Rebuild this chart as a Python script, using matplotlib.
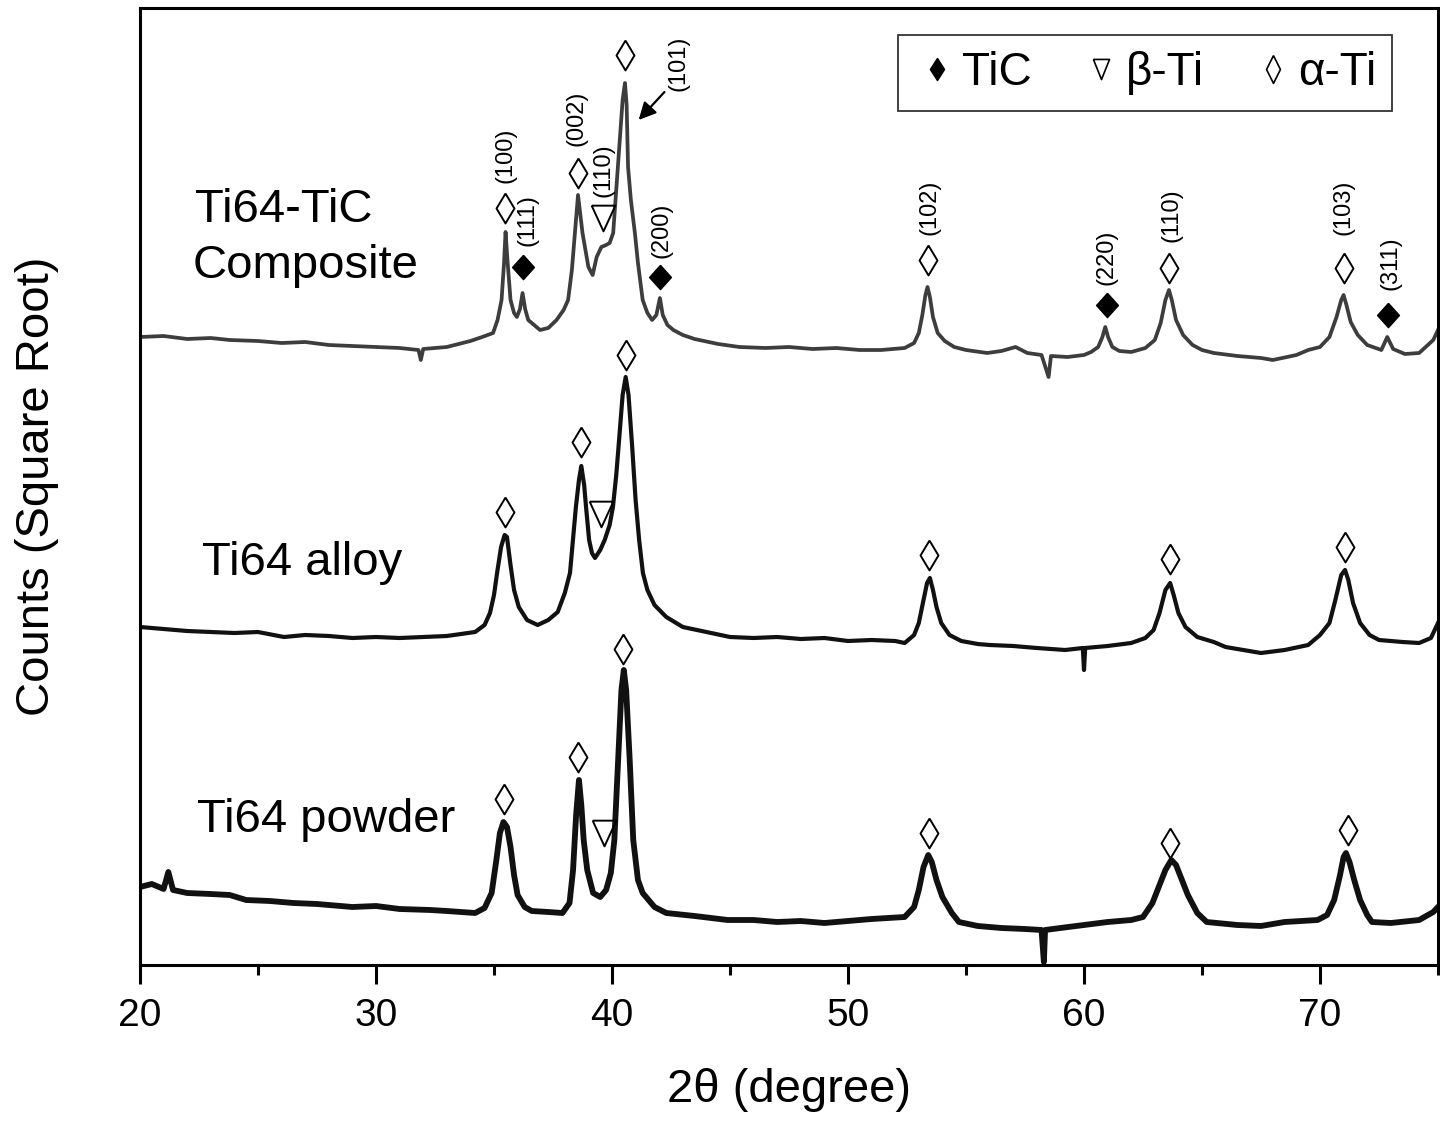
import matplotlib
matplotlib.use("Agg")
import matplotlib.pyplot as plt
from matplotlib.lines import Line2D
from matplotlib.ticker import MultipleLocator

plt.rcParams['font.family'] = ['Liberation Sans', 'DejaVu Sans']

# 2theta / sqrt(counts) traces, each one already offset for stacking
tth_comp = [20.0, 21.0, 22.0, 23.0, 23.8, 25.0, 26.0, 27.0, 28.0, 29.0, 30.0, 31.0, 31.8, 31.9, 32.0,
            33.0, 34.0, 34.5, 34.96, 35.15, 35.32, 35.42, 35.49, 35.57, 35.7, 35.85, 35.97, 36.1,
            36.21, 36.32, 36.45, 36.95, 37.3, 37.65, 37.95, 38.14, 38.3, 38.43, 38.56, 38.65,
            38.75, 39.0, 39.18, 39.35, 39.55, 39.75, 39.9, 40.05, 40.25, 40.45, 40.55, 40.62,
            40.68, 40.8, 40.97, 41.1, 41.3, 41.5, 41.7, 41.88, 42.03, 42.15, 42.35, 42.6, 43.0,
            43.5, 44.5, 45.4, 46.5, 47.5, 48.5, 49.5, 50.5, 51.4, 52.4, 52.8, 53.0, 53.15, 53.28,
            53.37, 53.47, 53.6, 53.8, 54.1, 54.5, 55.0, 55.9, 56.5, 57.1, 57.6, 58.2, 58.5, 58.6,
            59.3, 60.0, 60.3, 60.6, 60.78, 60.9, 61.02, 61.2, 61.5, 62.0, 62.6, 63.0, 63.25,
            63.45, 63.6, 63.72, 63.9, 64.2, 64.6, 65.0, 65.5, 66.5, 67.5, 68.0, 69.0, 69.5, 70.0,
            70.4, 70.7, 70.9, 71.0, 71.12, 71.3, 71.6, 72.0, 72.6, 72.85, 73.1, 73.6, 74.2, 74.8,
            75.0]
int_comp = [628, 629, 626, 627, 625, 624, 622, 623, 620, 619, 618, 617, 615, 605, 616,
            618, 624, 628, 632, 645, 665, 700, 733, 705, 665, 652, 648, 656,
            672, 656, 645, 635, 637, 645, 655, 665, 695, 732, 770, 752,
            732, 698, 690, 708, 718, 720, 722, 732, 798, 865, 882, 860,
            798, 765, 732, 702, 665, 652, 645, 650, 667, 650, 640, 635, 630,
            626, 621, 618, 617, 618, 616, 617, 615, 615, 617, 622, 632, 650, 670,
            678, 668, 648, 632, 624, 618, 615, 612, 614, 618, 612, 610, 588, 609,
            608, 610, 613, 618, 628, 638, 628, 618, 614, 613, 617, 625, 642,
            665, 675, 665, 645, 630, 620, 615, 612, 609, 607, 605, 610, 615, 618,
            628, 648, 665, 670, 660, 643, 630, 620, 615, 628, 616, 611, 612, 625,
            635]

tth_alloy = [20.0, 21.0, 22.0, 23.0, 24.0, 25.0, 26.1, 27.0, 28.0, 29.0, 30.0, 31.0, 32.0, 33.0,
             34.2, 34.6, 34.83, 35.0, 35.13, 35.3, 35.45, 35.55, 35.7, 35.85, 36.05, 36.4, 36.85,
             37.3, 37.7, 38.0, 38.22, 38.47, 38.6, 38.7, 38.82, 38.9, 39.03, 39.15, 39.28, 39.5,
             39.69, 39.9, 40.04, 40.18, 40.3, 40.45, 40.58, 40.7, 40.85, 41.0, 41.15, 41.31, 41.5,
             41.8, 42.3, 43.0, 44.0, 45.0, 46.0, 47.0, 48.0, 49.0, 50.0, 51.0, 52.0, 52.4, 52.8,
             53.0, 53.2, 53.35, 53.47, 53.6, 53.75, 53.95, 54.3, 54.8, 55.5, 56.0, 57.0, 58.0,
             59.2, 59.95, 60.0, 60.05, 61.0, 62.0, 62.6, 62.95, 63.2, 63.45, 63.65, 63.8, 64.0,
             64.3, 64.8, 65.5, 66.0, 67.5, 68.5, 69.5, 70.0, 70.4, 70.65, 70.9, 71.06, 71.2, 71.4,
             71.7, 72.1, 72.5, 73.5, 74.2, 74.7, 75.0]
int_alloy = [338, 336, 334, 333, 332, 333, 328, 330, 329, 327, 328, 327, 328, 329,
             333, 340, 352, 370, 392, 418, 430, 428, 400, 375, 358, 345, 340,
             345, 353, 372, 392, 458, 485, 499, 480, 458, 425, 412, 407, 415,
             425, 440, 458, 490, 525, 570, 588, 570, 520, 465, 425, 392, 375,
             360, 348, 338, 333, 328, 327, 328, 326, 327, 324, 325, 324, 322, 330,
             342, 365, 382, 387, 375, 358, 342, 330, 324, 321, 320, 319, 317,
             315, 317, 295, 317, 319, 322, 327, 335, 352, 375, 382, 370, 352,
             338, 328, 323, 318, 312, 315, 320, 330, 342, 365, 390, 395, 385, 362,
             342, 330, 325, 323, 322, 327, 342]

tth_powder = [20.0, 20.5, 21.0, 21.2, 21.4, 22.0, 23.0, 23.8, 24.5, 25.5, 26.5, 27.5, 28.0, 29.0,
              30.0, 31.0, 32.3, 33.0, 34.2, 34.6, 34.9, 35.1, 35.25, 35.4, 35.55, 35.7, 35.85,
              36.0, 36.3, 36.6, 37.3, 37.9, 38.2, 38.35, 38.48, 38.6, 38.7, 38.8, 38.95, 39.2,
              39.5, 39.75, 39.95, 40.1, 40.25, 40.4, 40.5, 40.6, 40.75, 40.9, 41.1, 41.3, 41.8,
              42.3, 43.5, 44.9, 46.0, 47.0, 48.0, 49.0, 50.0, 51.0, 52.4, 52.8, 53.0, 53.2, 53.4,
              53.55, 53.75, 54.0, 54.4, 54.7, 55.5, 56.5, 57.5, 58.2, 58.3, 58.35, 59.0, 60.0,
              61.0, 62.0, 62.5, 62.9, 63.2, 63.45, 63.7, 63.9, 64.1, 64.4, 64.8, 65.2, 66.5,
              67.5, 68.5, 69.9, 70.3, 70.6, 70.85, 71.0, 71.1, 71.25, 71.45, 71.7, 72.0, 72.2,
              73.0, 74.2, 74.8, 75.0]
int_powder = [78, 81, 76, 93, 75, 72, 71, 70, 65, 64, 62, 61, 60, 58,
              59, 56, 55, 54, 52, 57, 72, 105, 132, 143, 138, 118, 90,
              70, 58, 54, 53, 52, 62, 95, 150, 185, 160, 125, 95, 72,
              68, 75, 92, 125, 200, 275, 295, 275, 205, 125, 85, 72, 58,
              52, 49, 45, 45, 43, 44, 42, 44, 46, 48, 58, 75, 98, 110,
              103, 85, 68, 52, 43, 39, 37, 36, 35, 3, 35, 37, 40,
              43, 45, 48, 62, 80, 95, 105, 100, 88, 70, 52, 43, 40,
              39, 43, 45, 50, 65, 90, 108, 112, 103, 85, 65, 50, 43,
              42, 45, 53, 58]

# phase markers (2theta, height) for each pattern
comp_alpha_x = [35.47, 38.56, 40.55, 53.4, 63.6, 71.0]
comp_alpha_y = [757, 792, 910, 705, 697, 697]
comp_tic_x = [36.23, 42.03, 60.97, 72.9]
comp_tic_y = [698, 688, 660, 650]
comp_beta_x = [39.6]
comp_beta_y = [747]

alloy_alpha_x = [35.45, 38.7, 40.58, 53.43, 63.65, 71.06]
alloy_alpha_y = [453, 523, 610, 410, 406, 418]
alloy_beta_x = [39.55]
alloy_beta_y = [451]

powder_alpha_x = [35.42, 38.58, 40.45, 53.43, 63.65, 71.17]
powder_alpha_y = [166, 208, 316, 132, 122, 135]
powder_beta_x = [39.68]
powder_beta_y = [132]

# Miller indices written above the composite peaks
hkl_text = ['(100)', '(111)', '(002)', '(110)', '(101)', '(200)', '(102)', '(220)', '(110)',
            '(103)', '(311)']
hkl_x = [35.5, 36.4, 38.5, 39.65, 42.8, 42.1, 53.47, 60.96, 63.7, 71.0, 73.0]
hkl_y = [810, 745, 847, 795, 902, 735, 758, 708, 750, 758, 702]

sample_names = ['Ti64-TiC', 'Composite', 'Ti64 alloy', 'Ti64 powder']
sample_x = [22.33, 22.25, 22.62, 22.42]
sample_y = [743, 687, 390, 133]

# marker shapes
lozenge = [(0, 1), (0.6, 0), (0, -1), (-0.6, 0), (0, 1)]
solid_diamond = [(0, 1), (0.9, 0), (0, -1), (-0.9, 0), (0, 1)]
nabla = [(-0.92, 1), (0.92, 1), (0, -1), (-0.92, 1)]

fig = plt.figure(figsize=(14.4, 11.22), dpi=100)
ax = fig.add_axes([140 / 1440, 157 / 1122, 1298 / 1440, 957 / 1122])

ax.plot(tth_comp, int_comp, color='#3d3d3d', lw=2.7, solid_joinstyle='round')
ax.plot(tth_alloy, int_alloy, color='#111111', lw=3.0, solid_joinstyle='round')
ax.plot(tth_powder, int_powder, color='#111111', lw=4.2, solid_joinstyle='round')

alpha_style = dict(ls='none', marker=lozenge, ms=21.5, mfc='white', mec='k', mew=1.4)
beta_style = dict(ls='none', marker=nabla, ms=18.5, mfc='none', mec='k', mew=1.4)
tic_style = dict(ls='none', marker=solid_diamond, ms=17.5, mfc='k', mec='k', mew=1)

ax.plot(comp_alpha_x, comp_alpha_y, **alpha_style)
ax.plot(comp_tic_x, comp_tic_y, **tic_style)
ax.plot(comp_beta_x, comp_beta_y, **beta_style)
ax.plot(alloy_alpha_x, alloy_alpha_y, **alpha_style)
ax.plot(alloy_beta_x, alloy_beta_y, **beta_style)
ax.plot(powder_alpha_x, powder_alpha_y, **alpha_style)
ax.plot(powder_beta_x, powder_beta_y, **beta_style)

for t, x, y in zip(hkl_text, hkl_x, hkl_y):
    ax.text(x, y, t, rotation=90, ha='center', va='center', fontsize=17)

ax.annotate('', xy=(41.05, 843), xytext=(42.3, 875),
            arrowprops=dict(arrowstyle='-|>', color='k', lw=1.6, mutation_scale=26))

for t, x, y in zip(sample_names, sample_x, sample_y):
    ax.text(x, y, t, ha='left', va='baseline', fontsize=34)

handles = [Line2D([], [], ls='none', marker=[(0, 1), (0.64, 0), (0, -1), (-0.64, 0), (0, 1)],
                  ms=16, mfc='k', mec='k'),
           Line2D([], [], ls='none', marker=[(-0.8, 1), (0.8, 1), (0, -1), (-0.8, 1)],
                  ms=14.5, mfc='none', mec='k', mew=1.2),
           Line2D([], [], ls='none', marker=[(0, 1), (0.5, 0), (0, -1), (-0.5, 0), (0, 1)],
                  ms=20, mfc='none', mec='k', mew=1.2)]
leg = ax.legend(handles, ['TiC', '\u03b2-Ti', '\u03b1-Ti'], ncol=3, loc='upper left',
                bbox_to_anchor=(0.584, 0.972), fontsize=33, frameon=True, fancybox=False,
                edgecolor='k', handlelength=1.0, handletextpad=0.05, columnspacing=1.0,
                borderpad=0.35, borderaxespad=0)
leg.get_frame().set_linewidth(1.3)

ax.set_xlim(20, 75)
ax.set_ylim(0, 957)
ax.xaxis.set_major_locator(MultipleLocator(10))
ax.xaxis.set_minor_locator(MultipleLocator(5))
ax.set_yticks([])
ax.tick_params(axis='x', which='major', direction='out', length=14, width=2.2,
               labelsize=28, pad=10)
ax.tick_params(axis='x', which='minor', direction='out', length=7.5, width=2.2)
for s in ax.spines.values():
    s.set_linewidth(2.2)

ax.set_xlabel('2\u03b8 (degree)', fontsize=34, labelpad=24)
ax.set_ylabel('Counts (Square Root)', fontsize=34, labelpad=58)

fig.savefig('out.png', dpi=100, facecolor='w')
